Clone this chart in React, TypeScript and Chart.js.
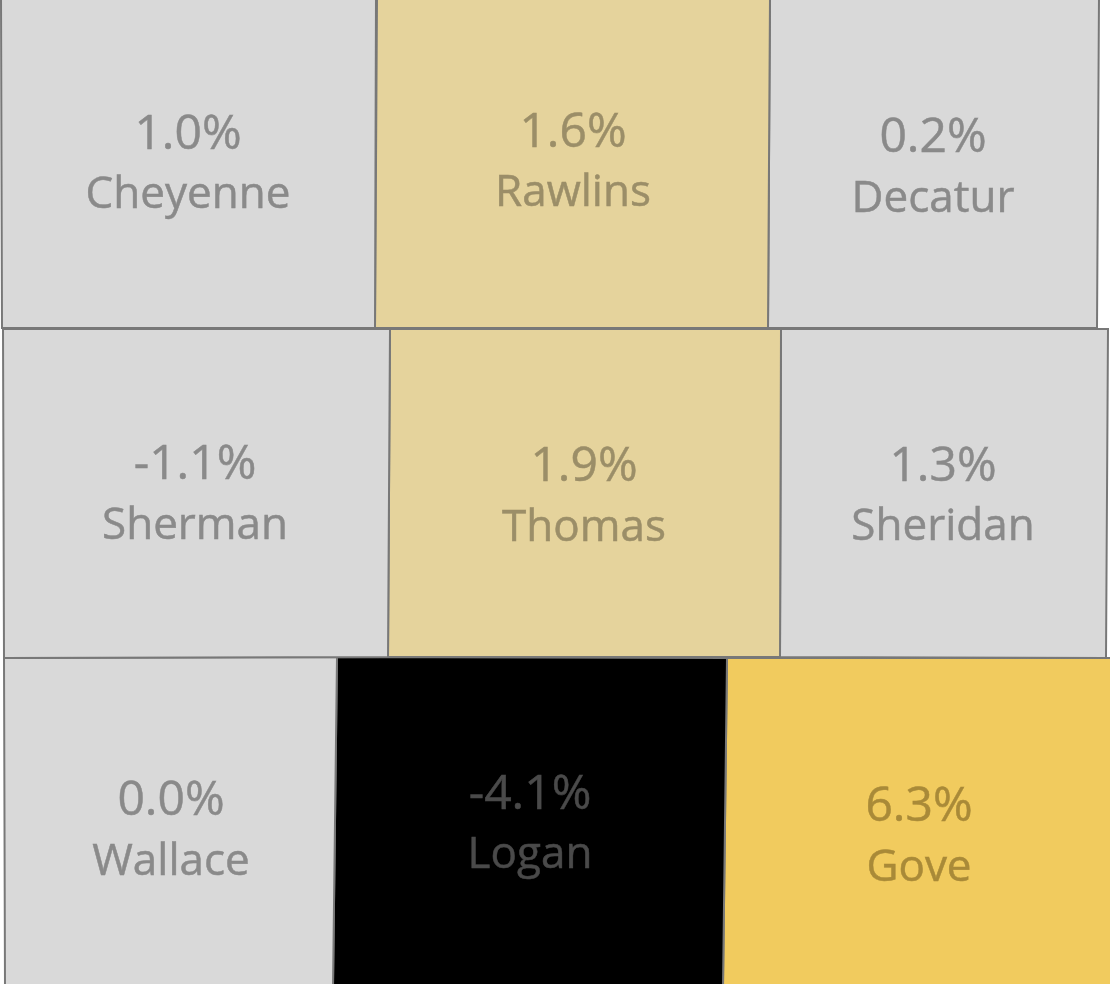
import React, { useEffect, useRef } from "react";
import { Chart, registerables } from "chart.js";

Chart.register(...registerables);

const counties = ["Cheyenne", "Rawlins", "Decatur", "Sherman", "Thomas", "Sheridan", "Wallace", "Logan", "Gove"];
const changes = [1.0, 1.6, 0.2, -1.1, 1.9, 1.3, 0.0, -4.1, 6.3];

const outlineX = [
  [1, 376, 375, 2],
  [377, 770, 768, 375],
  [770, 1099, 1097, 768],
  [3, 390, 388, 4],
  [390, 781, 780, 388],
  [781, 1108, 1106, 780],
  [4, 337, 333, 5],
  [337, 727, 723, 333],
  [727, 1114, 1114, 723],
];
const outlineY = [
  [-3, -3, 328, 328],
  [-3, -3, 328, 328],
  [-3, -3, 328, 328],
  [329, 329, 657, 658],
  [329, 329, 657, 657],
  [329, 329, 658, 657],
  [658, 657, 987, 987],
  [657, 658, 987, 987],
  [658, 658, 987, 987],
];
const fillColors = ["#d9d9d9", "#e5d39c", "#d9d9d9", "#d9d9d9", "#e5d39c", "#d9d9d9", "#d9d9d9", "#000000", "#f1cb5e"];
const textColors = ["#8a8a8a", "#9b8e68", "#8a8a8a", "#8a8a8a", "#9b8e68", "#8a8a8a", "#8a8a8a", "#4a4a4a", "#a98a38"];
const labelX = [188, 573, 933, 195, 584, 943, 171, 530, 919];
const valueY = [135, 133, 138, 465, 467, 467, 801, 795, 807];
const nameY = [195, 193, 199, 526, 528, 527, 862, 855, 868];

const labelPlugin = {
  id: "countyLabels",
  afterDatasetsDraw(chart: any) {
    const { ctx, scales } = chart;
    ctx.save();
    ctx.textAlign = "center";
    ctx.textBaseline = "middle";
    counties.forEach((name, i) => {
      ctx.fillStyle = textColors[i];
      ctx.strokeStyle = textColors[i];
      ctx.lineWidth = 0.5;
      const x = scales.x.getPixelForValue(labelX[i]);
      const vy = scales.y.getPixelForValue(valueY[i]);
      const ny = scales.y.getPixelForValue(nameY[i]);
      const value = `${changes[i].toFixed(1)}%`;
      ctx.font = '48px "Open Sans", "Noto Sans", sans-serif';
      ctx.fillText(value, x, vy);
      ctx.strokeText(value, x, vy);
      ctx.font = '44px "Open Sans", "Noto Sans", sans-serif';
      ctx.fillText(name, x, ny);
      ctx.strokeText(name, x, ny);
    });
    ctx.restore();
  },
};

export default function App() {
  const ref = useRef<HTMLCanvasElement>(null);
  useEffect(() => {
    const chart = new Chart(ref.current!, {
      type: "scatter",
      data: {
        datasets: counties.map((label, i) => ({
          label,
          data: [...outlineX[i], outlineX[i][0]].map((x, k) => ({ x, y: [...outlineY[i], outlineY[i][0]][k] })),
          showLine: true,
          fill: "shape",
          backgroundColor: fillColors[i],
          borderColor: "#787878",
          borderWidth: 2,
          pointRadius: 0,
          tension: 0,
        })),
      } as any,
      options: {
        animation: false,
        responsive: false,
        layout: { padding: 0 },
        plugins: { legend: { display: false }, tooltip: { enabled: false }, title: { display: false } },
        scales: {
          x: { type: "linear", display: false, min: 0, max: 1110 },
          y: { type: "linear", display: false, min: 0, max: 984, reverse: true },
        },
      } as any,
      plugins: [labelPlugin],
    });
    return () => chart.destroy();
  }, []);
  useEffect(() => {
    document.body.style.margin = "0";
    document.body.style.background = "#ffffff";
  }, []);
  return <canvas ref={ref} width={1110} height={984} style={{ display: "block" }} />;
}
